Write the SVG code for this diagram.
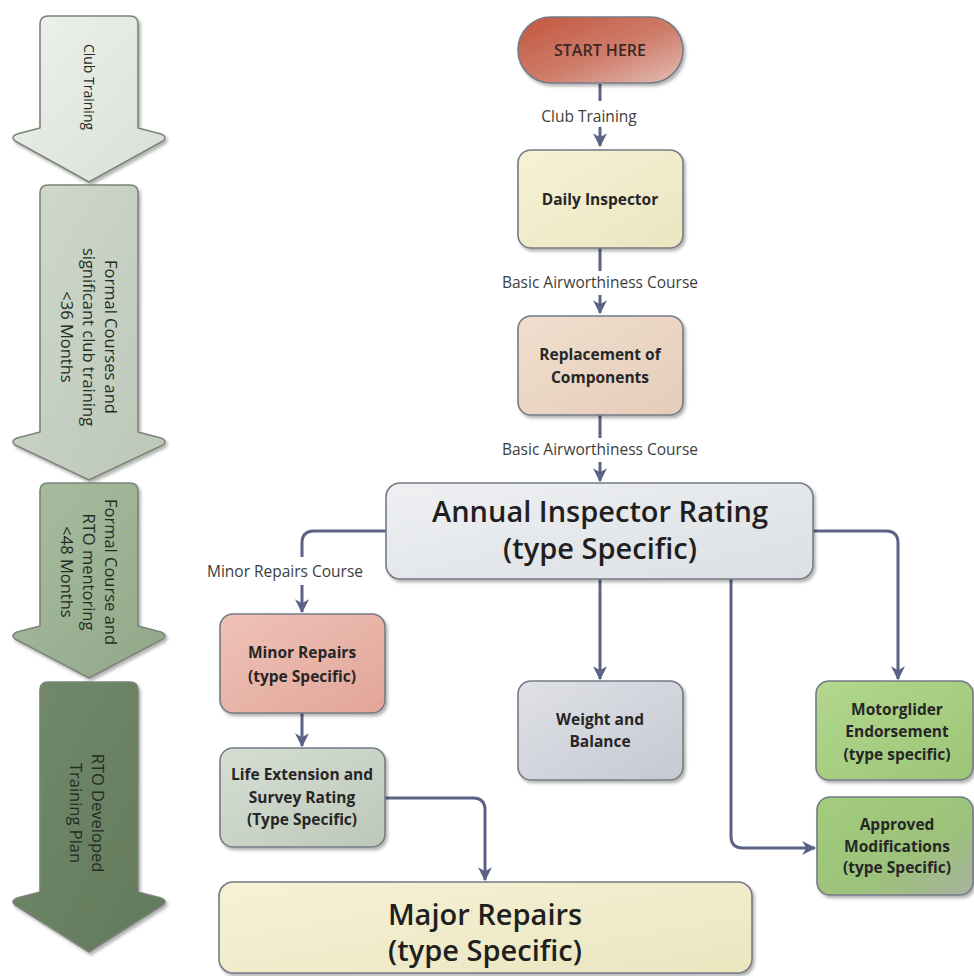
<svg xmlns="http://www.w3.org/2000/svg" width="974" height="976" viewBox="0 0 974 976">
<style>
  text { font-family: "Open Sans", "Liberation Sans", sans-serif; }
  .lbl { font-size: 15.5px; fill: #3d3d3d; text-anchor: middle; }
  .nt { font-size: 15.5px; font-weight: 700; fill: #262626; text-anchor: middle; }
  .big { font-size: 29px; font-weight: 600; fill: #1f1f1f; text-anchor: middle; }
  .at { font-size: 16.5px; fill: #242c20; text-anchor: middle; dominant-baseline: central; }
  .box { stroke: #767a86; stroke-width: 1.6; filter: url(#sh); }
  .arr { stroke: #7c8479; stroke-width: 1.6; stroke-linejoin: round; filter: url(#sh); }
  .con { fill: none; stroke: #5b6286; stroke-width: 3; }
</style>
<defs>
  <filter id="sh" x="-10%" y="-10%" width="130%" height="130%">
    <feDropShadow dx="2" dy="2.5" stdDeviation="1.6" flood-color="#000" flood-opacity="0.3"/>
  </filter>
  <marker id="ah" viewBox="0 0 12 12" refX="11" refY="6" markerWidth="14" markerHeight="14" markerUnits="userSpaceOnUse" orient="auto">
    <path d="M0,0 L12,6 L0,12 L3.5,6 Z" fill="#5b6286"/>
  </marker>
  <linearGradient id="gA1" x1="0" y1="0" x2="1" y2="1"><stop offset="0" stop-color="#eef1ec"/><stop offset="1" stop-color="#d9dfd7"/></linearGradient>
  <linearGradient id="gA2" x1="0" y1="0" x2="1" y2="1"><stop offset="0" stop-color="#d0d9cc"/><stop offset="1" stop-color="#bcc7b8"/></linearGradient>
  <linearGradient id="gA3" x1="0" y1="0" x2="1" y2="1"><stop offset="0" stop-color="#a9bea0"/><stop offset="1" stop-color="#90a788"/></linearGradient>
  <linearGradient id="gA4" x1="0" y1="0" x2="1" y2="1"><stop offset="0" stop-color="#718a6b"/><stop offset="1" stop-color="#627a5c"/></linearGradient>
  <linearGradient id="gStart" x1="0" y1="0" x2="1" y2="1"><stop offset="0" stop-color="#c2563f"/><stop offset="0.55" stop-color="#cf7d6b"/><stop offset="1" stop-color="#e2bdb5"/></linearGradient>
  <linearGradient id="gYel" x1="0" y1="0" x2="1" y2="1"><stop offset="0" stop-color="#f5f2d6"/><stop offset="1" stop-color="#ebe5bf"/></linearGradient>
  <linearGradient id="gTan" x1="0" y1="0" x2="1" y2="1"><stop offset="0" stop-color="#f0dfcf"/><stop offset="1" stop-color="#e5ccb8"/></linearGradient>
  <linearGradient id="gGrey" x1="0" y1="0" x2="1" y2="1"><stop offset="0" stop-color="#eef0f2"/><stop offset="1" stop-color="#dcdfe3"/></linearGradient>
  <linearGradient id="gPink" x1="0" y1="0" x2="1" y2="1"><stop offset="0" stop-color="#efc2b8"/><stop offset="1" stop-color="#e2a598"/></linearGradient>
  <linearGradient id="gSage" x1="0" y1="0" x2="1" y2="1"><stop offset="0" stop-color="#d6ded4"/><stop offset="1" stop-color="#bcc8b9"/></linearGradient>
  <linearGradient id="gBlue" x1="0" y1="0" x2="1" y2="1"><stop offset="0" stop-color="#dfe1e6"/><stop offset="1" stop-color="#c6c9d2"/></linearGradient>
  <linearGradient id="gGreen" x1="0" y1="0" x2="1" y2="1"><stop offset="0" stop-color="#b2d78d"/><stop offset="1" stop-color="#9cc576"/></linearGradient>
  <linearGradient id="gGreen2" x1="0" y1="0" x2="1" y2="1"><stop offset="0" stop-color="#a3cd7c"/><stop offset="0.6" stop-color="#9cc27a"/><stop offset="1" stop-color="#a7b29f"/></linearGradient>
</defs>

<g id="stage1">
  <path class="arr" fill="url(#gA1)" d="M48,16 H130 Q138,16 138,24 V128 L161,134 Q168,137 163,141 L89,182 L15,141 Q10,137 17,134 L40,128 V24 Q40,16 48,16 Z"/>
  <text class="at" transform="rotate(90 89 87)" x="89" y="87" style="font-size:14px">Club Training</text>
</g>
<g id="stage2">
  <path class="arr" fill="url(#gA2)" d="M48,185 H130 Q138,185 138,193 V432 L161,438 Q168,441 163,445 L89,480 L15,445 Q10,441 17,438 L40,432 V193 Q40,185 48,185 Z"/>
  <text class="at" transform="rotate(90 111 337)" x="111" y="337">Formal Courses and</text>
  <text class="at" transform="rotate(90 89 337)" x="89" y="337">significant club training</text>
  <text class="at" transform="rotate(90 67 337)" x="67" y="337">&lt;36 Months</text>
</g>
<g id="stage3">
  <path class="arr" fill="url(#gA3)" d="M48,483 H130 Q138,483 138,491 V626 L161,632 Q168,635 163,639 L89,678 L15,639 Q10,635 17,632 L40,626 V491 Q40,483 48,483 Z"/>
  <text class="at" transform="rotate(90 111 572)" x="111" y="572">Formal Course and</text>
  <text class="at" transform="rotate(90 89 572)" x="89" y="572">RTO mentoring</text>
  <text class="at" transform="rotate(90 67 572)" x="67" y="572">&lt;48 Months</text>
</g>
<g id="stage4">
  <path class="arr" fill="url(#gA4)" d="M48,682 H130 Q138,682 138,690 V892 L161,898 Q168,901 163,905 L89,952 L15,905 Q10,901 17,898 L40,892 V690 Q40,682 48,682 Z"/>
  <text class="at" transform="rotate(90 98 813)" x="98" y="813">RTO Developed</text>
  <text class="at" transform="rotate(90 76 813)" x="76" y="813">Training Plan</text>
</g>

<g id="connectors">
  <path class="con" d="M600,84 V101"/>
  <path class="con" d="M600,127 V146" marker-end="url(#ah)"/>
  <path class="con" d="M600,248 V271"/>
  <path class="con" d="M600,295 V313" marker-end="url(#ah)"/>
  <path class="con" d="M600,415 V438"/>
  <path class="con" d="M600,462 V481" marker-end="url(#ah)"/>
  <path class="con" d="M386,531 H314 Q302,531 302,543 V557"/>
  <path class="con" d="M302,585 V612" marker-end="url(#ah)"/>
  <path class="con" d="M302,713 V746" marker-end="url(#ah)"/>
  <path class="con" d="M385,798 H473 Q485,798 485,810 V880" marker-end="url(#ah)"/>
  <path class="con" d="M600,579 V679" marker-end="url(#ah)"/>
  <path class="con" d="M731,579 V836 Q731,848 743,848 H815" marker-end="url(#ah)"/>
  <path class="con" d="M813,531 H886 Q898,531 898,543 V679" marker-end="url(#ah)"/>
  <text class="lbl" x="589" y="122">Club Training</text>
  <text class="lbl" x="600" y="288">Basic Airworthiness Course</text>
  <text class="lbl" x="600" y="455">Basic Airworthiness Course</text>
  <text class="lbl" x="285" y="577">Minor Repairs Course</text>
</g>

<g id="start">
  <rect class="box" x="518" y="17" width="165" height="66" rx="33" fill="url(#gStart)"/>
  <text x="600" y="56" style="font-size:16px;font-weight:600;fill:#3b2823;text-anchor:middle">START HERE</text>
</g>
<g id="daily">
  <rect class="box" x="518" y="150" width="165" height="98" rx="13" fill="url(#gYel)"/>
  <text class="nt" x="600" y="205">Daily Inspector</text>
</g>
<g id="replacement">
  <rect class="box" x="518" y="316" width="165" height="99" rx="13" fill="url(#gTan)"/>
  <text class="nt" x="600" y="360">Replacement of</text>
  <text class="nt" x="600" y="383">Components</text>
</g>
<g id="annual">
  <rect class="box" x="386" y="483" width="427" height="96" rx="14" fill="url(#gGrey)"/>
  <text class="big" x="600" y="522">Annual Inspector Rating</text>
  <text class="big" x="600" y="559">(type Specific)</text>
</g>
<g id="minor">
  <rect class="box" x="220" y="614" width="165" height="99" rx="13" fill="url(#gPink)"/>
  <text class="nt" x="302" y="658">Minor Repairs</text>
  <text class="nt" x="302" y="682">(type Specific)</text>
</g>
<g id="life">
  <rect class="box" x="220" y="748" width="165" height="99" rx="13" fill="url(#gSage)"/>
  <text class="nt" x="302" y="780">Life Extension and</text>
  <text class="nt" x="302" y="803">Survey Rating</text>
  <text class="nt" x="302" y="825">(Type Specific)</text>
</g>
<g id="weight">
  <rect class="box" x="518" y="681" width="165" height="99" rx="13" fill="url(#gBlue)"/>
  <text class="nt" x="600" y="725">Weight and</text>
  <text class="nt" x="600" y="747">Balance</text>
</g>
<g id="motorglider">
  <rect class="box" x="816" y="681" width="157" height="99" rx="13" fill="url(#gGreen)"/>
  <text class="nt" x="897" y="715">Motorglider</text>
  <text class="nt" x="897" y="737">Endorsement</text>
  <text class="nt" x="897" y="760">(type specific)</text>
</g>
<g id="approved">
  <rect class="box" x="817" y="797" width="156" height="98" rx="13" fill="url(#gGreen2)"/>
  <text class="nt" x="897" y="830">Approved</text>
  <text class="nt" x="897" y="852">Modifications</text>
  <text class="nt" x="897" y="873">(type Specific)</text>
</g>
<g id="major">
  <rect class="box" x="219" y="882" width="533" height="91" rx="14" fill="url(#gYel)"/>
  <text class="big" x="485" y="925">Major Repairs</text>
  <text class="big" x="485" y="961">(type Specific)</text>
</g>
</svg>
